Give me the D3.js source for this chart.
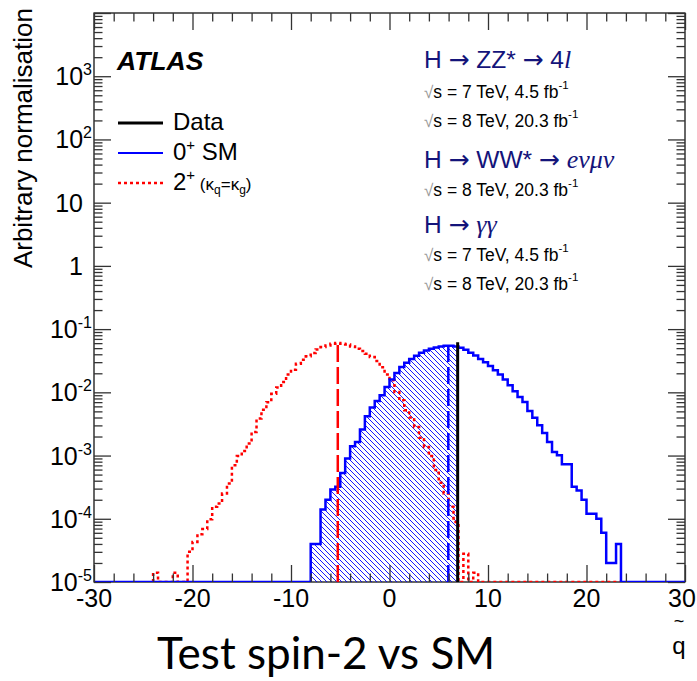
<!DOCTYPE html>
<html>
<head>
<meta charset="utf-8">
<script src="https://cdn.jsdelivr.net/npm/d3@7"></script>
<style>
  body { margin: 0; background: #fff; }
  svg { display: block; }
  text { font-family: "Liberation Sans", Arial, sans-serif; }
</style>
</head>
<body>
<div id="wrapper"></div>
<script>
// histogram bins are 0.5 wide, values listed from the first non-empty bin
const binWidth = 0.5;
const smStart = -8;
const smValues = [
  4e-5, 4e-5, 1.4e-4, 2.0e-4, 2.9e-4, 3.2e-4, 5.3e-4, 9.0e-4,
  1.40e-3, 1.64e-3, 2.58e-3, 4.18e-3, 5.73e-3, 7.3e-3, 8.97e-3, 0.0121,
  0.0160, 0.0202, 0.0251, 0.0294, 0.0337, 0.0379, 0.0424, 0.0460,
  0.0490, 0.0514, 0.0533, 0.0546, 0.0546, 0.0533,
  0.0507, 0.0472, 0.0424, 0.0384, 0.0337, 0.0298, 0.0261, 0.0223,
  0.0192, 0.0160, 0.0129, 0.0104, 0.00843, 0.00705, 0.00507, 0.00398,
  0.00301, 0.00228, 0.00164, 0.00114, 0.00101, 0.00073, 0.00073, 0.00032,
  0.00028, 0.00020, 0.00012, 0.00012, 0.00010, 0.00006, 0.00002, 0.00002,
  0.00004
];
const spin2Start = -24;
const spin2Values = [
  1.4e-5, 0, 0, 0, 1.4e-5, 0, 0, 3.0e-5,
  4.3e-5, 5.7e-5, 6.9e-5, 9.8e-5, 1.55e-4, 1.75e-4, 2.5e-4, 3.6e-4,
  7.0e-4, 9.8e-4, 1.18e-3, 1.55e-3, 2.36e-3, 3.85e-3, 5.3e-3, 7.0e-3,
  9.5e-3, 0.0119, 0.0146, 0.0192, 0.0228, 0.0284, 0.0328, 0.0371,
  0.0418, 0.0478, 0.0520, 0.0553, 0.0588, 0.0601, 0.0588, 0.0573,
  0.0533, 0.0490, 0.0450, 0.0408, 0.0361, 0.0313, 0.0250, 0.0192,
  0.0155, 0.0101, 0.0075, 0.0052, 0.0040, 0.00283, 0.00192, 0.00137,
  0.00098, 0.00059, 0.00037, 0.00025, 0.000155, 0.000089,
  0, 2.8e-5, 0, 1.4e-5,
  0, 0, 0, 0, 0, 0, 0, 0, 0, 0, 0, 0, 0, 0, 0, 0, 0, 0, 0, 0, 0, 0, 0, 0, 0, 0, 0, 0, 0
];
const observedQ = 6.92;
const observedTop = 0.062;
const medianSM = 5.97;
const medianSpin2 = -5.25;

const xTicks = [-30, -20, -10, 0, 10, 20, 30];
const yExponents = [-5, -4, -3, -2, -1, 0, 1, 2, 3];

// each title: [text, style] pieces, style "a" = arrow, "s" = serif italic
const channelTitles = [
  [["H ", ""], ["\u2192", "a"], [" ZZ* ", ""], ["\u2192", "a"], [" 4", ""], ["l", "s"]],
  [["H ", ""], ["\u2192", "a"], [" WW* ", ""], ["\u2192", "a"], [" ", ""], ["e\u03bd\u03bc\u03bd", "s"]],
  [["H ", ""], ["\u2192", "a"], [" ", ""], ["\u03b3\u03b3", "s"]]
];
const channelLumis = [
  ["s = 7 TeV, 4.5 fb", "s = 8 TeV, 20.3 fb"],
  ["s = 8 TeV, 20.3 fb"],
  ["s = 7 TeV, 4.5 fb", "s = 8 TeV, 20.3 fb"]
];

function buildPlot() {
  const dim = { width: 697, height: 681, left: 94, right: 685, top: 13, bottom: 582 };

  const svg = d3.select("#wrapper").append("svg")
    .attr("width", dim.width)
    .attr("height", dim.height);

  const x = d3.scaleLinear().domain([-30, 30]).range([dim.left, dim.right]);
  const y = d3.scaleLog().domain([1e-5, 1e4]).range([dim.bottom, dim.top]);
  const yv = (v) => v > 1e-5 ? y(v) : y(1e-5);

  const defs = svg.append("defs");
  defs.append("clipPath").attr("id", "frame")
    .append("rect")
    .attr("x", dim.left).attr("y", dim.top)
    .attr("width", dim.right - dim.left).attr("height", dim.bottom - dim.top);
  const hatch = defs.append("pattern")
    .attr("id", "hatch")
    .attr("patternUnits", "userSpaceOnUse")
    .attr("width", 5).attr("height", 5);
  hatch.append("path")
    .attr("d", "M0,0L5,5M-1,4L1,6M4,-1L6,1")
    .attr("stroke", "#0000ff")
    .attr("stroke-width", 0.9);

  // frame
  svg.append("rect")
    .attr("x", dim.left).attr("y", dim.top)
    .attr("width", dim.right - dim.left).attr("height", dim.bottom - dim.top)
    .attr("fill", "none").attr("stroke", "#000").attr("stroke-width", 1.2);

  const plot = svg.append("g").attr("clip-path", "url(#frame)");

  // bin points for step curves
  const smPts = smValues.map((v, i) => [smStart + i * binWidth, v]);
  const smLine = [[-30, 0]].concat(smPts, [[smStart + smValues.length * binWidth, 0], [30, 0]]);
  const spPts = spin2Values.map((v, i) => [spin2Start + i * binWidth, v]);
  const spLine = [[spin2Start, 0]].concat(spPts, [[spin2Start + spin2Values.length * binWidth, 0]]);

  const hatchPts = smPts.filter(p => p[0] < observedQ);
  hatchPts.push([observedQ, hatchPts[hatchPts.length - 1][1]]);

  const area = d3.area()
    .curve(d3.curveStepAfter)
    .x(d => x(d[0]))
    .y0(dim.bottom)
    .y1(d => yv(d[1]));
  plot.append("path")
    .attr("d", area(hatchPts))
    .attr("fill", "url(#hatch)");

  const step = d3.line()
    .curve(d3.curveStepAfter)
    .x(d => x(d[0]))
    .y(d => yv(d[1]));

  plot.append("path")
    .attr("d", step(spLine))
    .attr("fill", "none")
    .attr("stroke", "#ff0000")
    .attr("stroke-width", 2.5)
    .attr("stroke-dasharray", "3,3");

  plot.append("path")
    .attr("d", step(smLine))
    .attr("fill", "none")
    .attr("stroke", "#0000ff")
    .attr("stroke-width", 2.5);

  const valueAt = (start, values, q) => values[Math.floor((q - start) / binWidth)];

  // medians and observed value
  plot.append("line")
    .attr("x1", x(medianSpin2)).attr("x2", x(medianSpin2))
    .attr("y1", dim.bottom).attr("y2", yv(valueAt(spin2Start, spin2Values, medianSpin2)))
    .attr("stroke", "#ff0000").attr("stroke-width", 2.5)
    .attr("stroke-dasharray", "17,5");
  plot.append("line")
    .attr("x1", x(medianSM)).attr("x2", x(medianSM))
    .attr("y1", dim.bottom).attr("y2", yv(valueAt(smStart, smValues, medianSM)))
    .attr("stroke", "#0000ff").attr("stroke-width", 2.5)
    .attr("stroke-dasharray", "17,5");
  plot.append("line")
    .attr("x1", x(observedQ)).attr("x2", x(observedQ))
    .attr("y1", dim.bottom).attr("y2", y(observedTop))
    .attr("stroke", "#000").attr("stroke-width", 3);

  // ticks
  const xMinor = d3.range(-30, 30.01, 2).filter(v => !xTicks.includes(v));
  const yMajor = d3.range(-5, 5).map(e => Math.pow(10, e));
  const yMinor = [];
  d3.range(-5, 4).forEach(e => d3.range(2, 10).forEach(k => yMinor.push(k * Math.pow(10, e))));

  function addAxis(axis, tx, ty) {
    const g = svg.append("g").attr("transform", `translate(${tx},${ty})`).call(axis);
    g.select(".domain").remove();
    g.selectAll(".tick line").attr("stroke", "#333").attr("stroke-width", 1.3);
    g.selectAll(".tick text").remove();
  }
  addAxis(d3.axisBottom(x).tickValues(xTicks).tickSize(-17).tickFormat(""), 0, dim.bottom);
  addAxis(d3.axisBottom(x).tickValues(xMinor).tickSize(-8.5).tickFormat(""), 0, dim.bottom);
  addAxis(d3.axisTop(x).tickValues(xTicks).tickSize(-17).tickFormat(""), 0, dim.top);
  addAxis(d3.axisTop(x).tickValues(xMinor).tickSize(-8.5).tickFormat(""), 0, dim.top);
  addAxis(d3.axisLeft(y).tickValues(yMajor).tickSize(-17).tickFormat(""), dim.left, 0);
  addAxis(d3.axisLeft(y).tickValues(yMinor).tickSize(-8.5).tickFormat(""), dim.left, 0);
  addAxis(d3.axisRight(y).tickValues(yMajor).tickSize(-17).tickFormat(""), dim.right, 0);
  addAxis(d3.axisRight(y).tickValues(yMinor).tickSize(-8.5).tickFormat(""), dim.right, 0);

  // tick labels (the last one is kept inside the page)
  svg.append("g").selectAll("text")
    .data(xTicks).enter().append("text")
    .attr("x", d => Math.min(x(d), 682)).attr("y", 607)
    .attr("text-anchor", "middle")
    .attr("font-size", 25)
    .text(d => d);

  yExponents.forEach(e => {
    const t = svg.append("text")
      .attr("y", y(Math.pow(10, e)) + 9)
      .attr("text-anchor", "end")
      .attr("font-size", 25);
    if (e === 0) t.attr("x", 83).text("1");
    else if (e === 1) t.attr("x", 83).text("10");
    else {
      t.attr("x", 92);
      t.append("tspan").text("10");
      t.append("tspan").attr("font-size", 16).attr("dy", -10).text(e);
    }
  });

  // axis titles
  svg.append("text")
    .attr("transform", "translate(32,8) rotate(-90)")
    .attr("text-anchor", "end")
    .attr("font-size", 26)
    .text("Arbitrary normalisation");
  svg.append("text")
    .attr("x", 679).attr("y", 627)
    .attr("text-anchor", "middle")
    .attr("font-size", 18)
    .text("~");
  svg.append("text")
    .attr("x", 679).attr("y", 654)
    .attr("text-anchor", "middle")
    .attr("font-size", 24)
    .text("q");

  // ATLAS label
  svg.append("text")
    .attr("x", 117).attr("y", 70)
    .attr("font-size", 26.5)
    .attr("font-weight", "bold")
    .attr("font-style", "italic")
    .text("ATLAS");

  // legend
  const lx1 = 118, lx2 = 163, tx = 173;
  svg.append("line").attr("x1", lx1).attr("x2", lx2).attr("y1", 123).attr("y2", 123)
    .attr("stroke", "#000").attr("stroke-width", 3);
  svg.append("text").attr("x", tx).attr("y", 130).attr("font-size", 24).text("Data");

  svg.append("line").attr("x1", lx1).attr("x2", lx2).attr("y1", 153).attr("y2", 153)
    .attr("stroke", "#0000ff").attr("stroke-width", 2);
  const sm = svg.append("text").attr("x", tx).attr("y", 160).attr("font-size", 24);
  sm.append("tspan").text("0");
  sm.append("tspan").attr("font-size", 15).attr("dy", -10).text("+");
  sm.append("tspan").attr("dy", 10).text(" SM");

  svg.append("line").attr("x1", lx1).attr("x2", lx2).attr("y1", 183).attr("y2", 183)
    .attr("stroke", "#ff0000").attr("stroke-width", 2.5).attr("stroke-dasharray", "3,3");
  const sp = svg.append("text").attr("x", tx).attr("y", 190).attr("font-size", 24);
  sp.append("tspan").text("2");
  sp.append("tspan").attr("font-size", 15).attr("dy", -10).text("+");
  sp.append("tspan").attr("dy", 10).attr("font-size", 17).text(" (\u03ba");
  sp.append("tspan").attr("dy", 4).attr("font-size", 12).text("q");
  sp.append("tspan").attr("dy", -4).attr("font-size", 17).text("=\u03ba");
  sp.append("tspan").attr("dy", 4).attr("font-size", 12).text("g");
  sp.append("tspan").attr("dy", -4).attr("font-size", 17).text(")");

  // channels
  const titleY = [68, 168, 233];
  const lumiY = [[98, 127], [196], [261, 290]];
  channelTitles.forEach((pieces, i) => {
    const t = svg.append("text")
      .attr("x", 424).attr("y", titleY[i])
      .attr("font-size", 24.5)
      .attr("fill", "#14147a");
    pieces.forEach(p => {
      const ts = t.append("tspan").text(p[0]);
      if (p[1] === "a") {
        ts.style("font-family", "'DejaVu Sans', sans-serif").attr("font-size", 25);
      } else if (p[1] === "s") {
        ts.style("font-family", "'Liberation Serif', 'Times New Roman', serif")
          .attr("font-style", "italic")
          .attr("font-size", 26);
      }
    });
    channelLumis[i].forEach((l, j) => {
      const s = svg.append("text")
        .attr("x", 424).attr("y", lumiY[i][j])
        .attr("font-size", 17.5);
      s.append("tspan").attr("fill", "#999").attr("font-size", 17).text("\u221a");
      s.append("tspan").text(l);
      s.append("tspan").attr("font-size", 11.5).attr("dy", -9).text("-1");
    });
  });

  // slide caption
  svg.append("text")
    .attr("x", 157).attr("y", 669)
    .style("font-family", "Lato, 'Open Sans', sans-serif")
    .attr("font-size", 44)
    .text("Test spin-2 vs SM");
}

buildPlot();
</script>
</body>
</html>
